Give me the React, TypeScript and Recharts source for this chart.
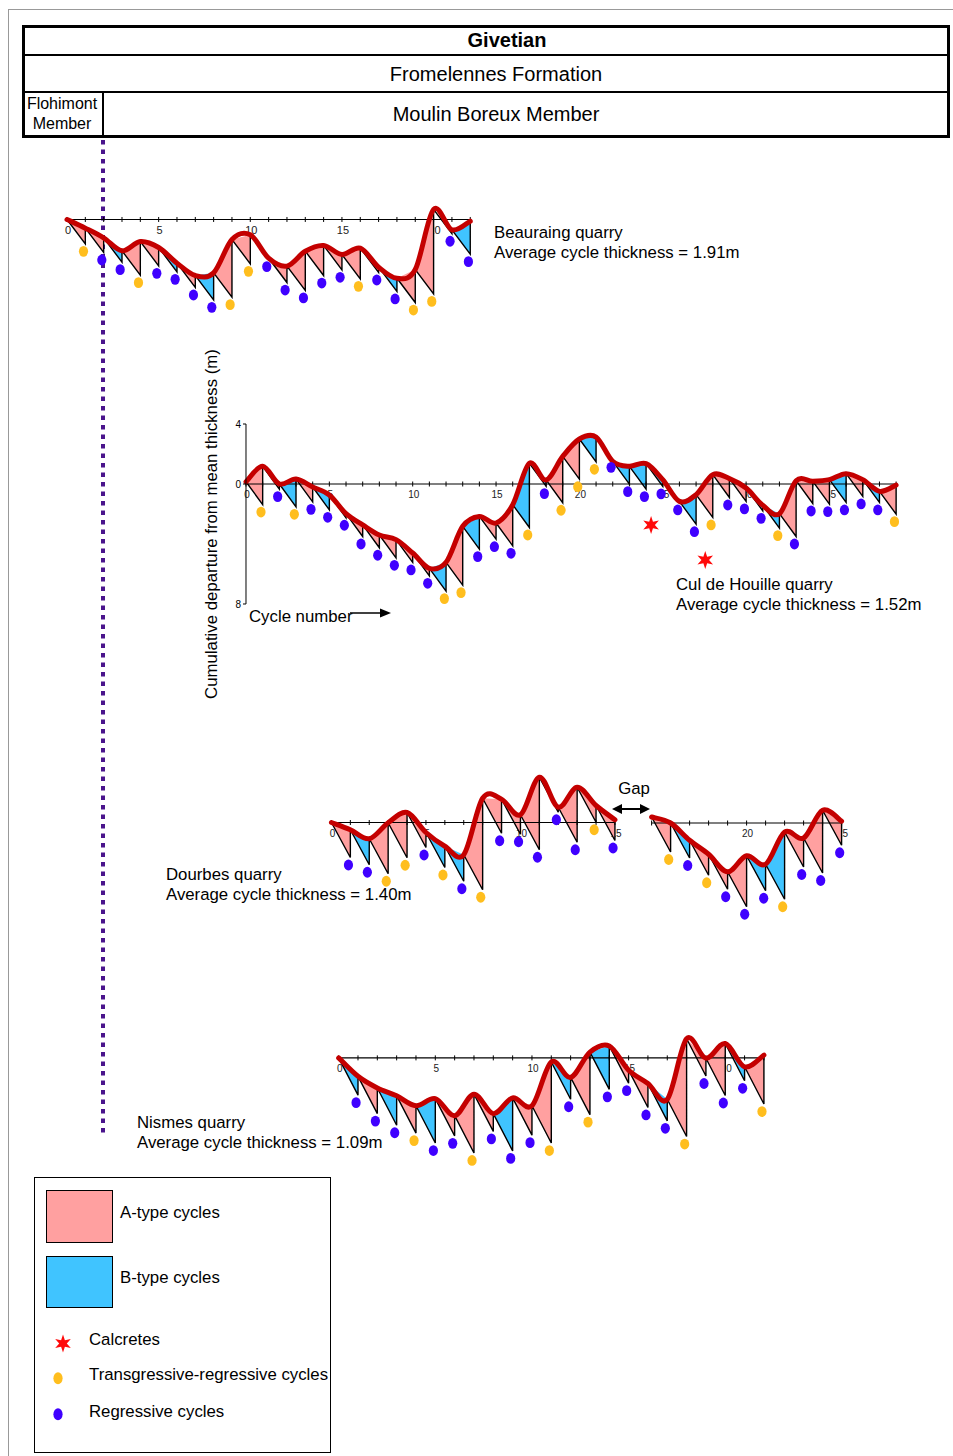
import React from 'react'
import { ComposedChart, Line, Area, Scatter, XAxis, YAxis } from 'recharts'

// Fischer plots: cumulative departure from mean thickness (m) at each cycle boundary,
// cycle type (A = pink, B = blue) and cycle kind (T = transgressive-regressive, R = regressive)

const beauraingTops = [0, -0.68, -1.44, -2.46, -1.73, -2.2, -3.43, -4.4, -4.19, -1.57, -1.2, -3.04, -3.66, -2.49, -2.04, -2.75, -2.25, -3.74, -4.61, -3.93, 0.79, -0.81, -0.13]
const beauraingTypes = ['A', 'A', 'B', 'A', 'A', 'B', 'A', 'B', 'A', 'A', 'A', 'A', 'A', 'A', 'A', 'A', 'A', 'B', 'A', 'A', 'A', 'B']
const beauraingKinds = ['T', 'R', 'R', 'T', 'R', 'R', 'R', 'R', 'T', 'T', 'R', 'R', 'R', 'R', 'R', 'T', 'R', 'R', 'T', 'T', 'R', 'R']
const beauraingLabels = [0, 5, 10, 15, 20]

const culTops = [0.15, 1.18, 0, 0.33, -0.2, -0.73, -1.98, -2.73, -3.4, -3.71, -4.6, -5.62, -5.22, -2.82, -2.16, -2.6, -1.38, 1.38, 0.27, 1.84, 3.0, 3.13, 1.51, 1.18, 1.36, 0.29, -1.16, -0.71, 0.62, 0.36, -0.27, -1.42, -1.98, 0.22, 0.18, 0.29, 0.69, 0.29, -0.49, -0.07]
const culTypes = ['A', 'A', 'B', 'A', 'B', 'A', 'A', 'A', 'A', 'A', 'A', 'B', 'A', 'B', 'A', 'A', 'B', 'B', 'A', 'A', 'B', 'B', 'B', 'B', 'B', 'B', 'B', 'A', 'A', 'A', 'B', 'B', 'A', 'A', 'A', 'B', 'A', 'B', 'A']
const culKinds = ['T', 'R', 'T', 'R', 'R', 'R', 'R', 'R', 'R', 'R', 'R', 'T', 'T', 'R', 'R', 'R', 'T', 'R', 'T', 'T', 'T', 'R', 'R', 'R', 'R', 'R', 'R', 'T', 'R', 'R', 'R', 'T', 'R', 'R', 'R', 'R', 'R', 'R', 'T']
const culLabels = [0, 5, 10, 15, 20, 25, 30, 35]
const culAxisTicks = [4, 0, -8]
const culCalcreteCycles = [24.3, 27.55]
const culCalcreteDepths = [-2.73, -5.07]

const dourbesTopsA = [0, -0.29, -0.65, -0.01, 0.4, -0.4, -0.95, -1.29, 0.97, 0.93, 0.31, 1.81, 0.61, 1.41, 0.68, 0.11]
const dourbesTypesA = ['A', 'B', 'A', 'A', 'A', 'B', 'B', 'A', 'A', 'A', 'A', 'A', 'A', 'A', 'A']
const dourbesKindsA = ['R', 'R', 'T', 'T', 'R', 'T', 'R', 'T', 'R', 'R', 'R', 'R', 'R', 'T', 'R']
const dourbesLabelsA = [0, 5, 10, 15]

// second part, after the gap, starts again at cycle 15
const dourbesTopsB = [0.24, 0, -0.69, -1.25, -1.95, -1.31, -1.65, -0.36, -0.6, 0.51, 0.07]
const dourbesTypesB = ['A', 'B', 'A', 'A', 'A', 'B', 'B', 'A', 'A', 'A']
const dourbesKindsB = ['T', 'R', 'T', 'R', 'R', 'R', 'T', 'R', 'R', 'R']
const dourbesLabelsB = [20, 25]

const nismesTops = [0, -0.54, -0.88, -1.11, -1.4, -1.19, -1.69, -1.06, -1.63, -1.17, -1.4, -0.12, -0.57, 0.17, 0.35, -0.36, -0.75, -1.21, 0.56, -0.01, 0.42, -0.26, 0.08]
const nismesTypes = ['B', 'A', 'B', 'A', 'B', 'A', 'A', 'A', 'B', 'A', 'A', 'B', 'A', 'B', 'A', 'A', 'B', 'A', 'A', 'A', 'B', 'A']
const nismesKinds = ['R', 'R', 'R', 'T', 'R', 'R', 'T', 'R', 'R', 'R', 'T', 'R', 'T', 'R', 'R', 'R', 'R', 'T', 'R', 'R', 'R', 'T']
const nismesLabels = [0, 5, 10, 15, 20]

// mean cycle thickness (m) = slope of the diagonals
const beauraingMean = 1.91
const culMean = 1.52
const dourbesMean = 1.4
const nismesMean = 1.09

const PINK = '#FFA0A0'
const BLUE = '#40C4FF'
const RED = '#C40000'
const YELLOW = '#FFBE1E'
const PURPLE = '#3F00FF'
const FONT = '"Liberation Sans", Arial, Helvetica, sans-serif'
const DOT_GAP = 7.5
const PAD = 8

// catmull-rom curve (smoothed line through the cycle tops)
const smoothCurve = (context: any) => {
  let pts: number[][] = []
  return {
    areaStart() {},
    areaEnd() {},
    lineStart() { pts = [] },
    lineEnd() {
      if (!pts.length) return
      context.moveTo(pts[0][0], pts[0][1])
      for (let i = 0; i < pts.length - 1; i++) {
        const p0 = pts[i - 1] || pts[i]
        const p1 = pts[i]
        const p2 = pts[i + 1]
        const p3 = pts[i + 2] || p2
        context.bezierCurveTo(
          p1[0] + (p2[0] - p0[0]) / 6, p1[1] + (p2[1] - p0[1]) / 6,
          p2[0] - (p3[0] - p1[0]) / 6, p2[1] - (p3[1] - p1[1]) / 6,
          p2[0], p2[1]
        )
      }
    },
    point(x: number, y: number) { pts.push([x, y]) },
  }
}

function buildRows(tops: number[], types: string[], drop: number, start: number) {
  const t0 = tops[0]
  const rows: any[] = [{ x: start, saw: t0, pink: [t0, t0], blue: [t0, t0], smooth: t0, axis: 0 }]
  for (let k = 1; k < tops.length; k++) {
    const low = tops[k - 1] - drop
    const hi = tops[k]
    rows.push({
      x: start + k,
      saw: low,
      pink: [types[k - 1] === 'A' ? low : hi, hi],
      blue: [types[k - 1] === 'B' ? low : hi, hi],
    })
    rows.push({ x: start + k, saw: hi, pink: [hi, hi], blue: [hi, hi], smooth: hi })
  }
  rows[rows.length - 1].axis = 0
  return rows
}

function starPoints(cx: number, cy: number, R: number, r: number) {
  const pts: string[] = []
  for (let k = 0; k < 12; k++) {
    const a = -Math.PI / 2 + (k * Math.PI) / 6
    const rad = k % 2 === 0 ? R : r
    pts.push(`${cx + rad * Math.cos(a)},${cy + rad * Math.sin(a)}`)
  }
  return pts.join(' ')
}

const dotShape = (color: string) => (p: any) => (
  <ellipse cx={p.cx} cy={p.cy} rx={4.6} ry={5.4} fill={color} />
)
const tickShape = (p: any) => (
  <line x1={p.cx} x2={p.cx} y1={p.cy - 2.5} y2={p.cy + 2.5} stroke="#000" strokeWidth={1} />
)
const labelShape = (size: number) => (p: any) => (
  <text x={p.cx + 1} y={p.cy + 11} textAnchor="middle" dominantBaseline="central" fontSize={size} fill="#222" fontFamily={FONT}>
    {p.payload.label}
  </text>
)
const starShape = (p: any) => <polygon points={starPoints(p.cx, p.cy, 9, 3.8)} fill="#FF0A0A" />

interface PlotProps {
  tops: number[]
  types: string[]
  kinds: string[]
  labels: number[]
  drop: number
  start?: number
  x0: number
  axisY: number
  pxC: number
  pxM: number
  xd: [number, number]
  yd: [number, number]
  yTicks?: number[]
  labelSize?: number
  starCycles?: number[]
  starDepths?: number[]
}

function FischerPlot(props: PlotProps) {
  const { tops, types, kinds, labels, drop, start = 0, x0, axisY, pxC, pxM, xd, yd, yTicks, labelSize = 10 } = props
  const rows = buildRows(tops, types, drop, start)
  const gap = DOT_GAP / pxM
  const dots = kinds.map((kind, k) => ({ x: start + k + 0.9, y: tops[k] - drop - gap, kind }))
  const tDots = dots.filter(d => d.kind === 'T')
  const rDots = dots.filter(d => d.kind === 'R')
  const tickPts = tops.map((_, k) => ({ x: start + k, y: 0 }))
  const labelPts = labels.map(l => ({ x: l, y: 0, label: String(l) }))
  const stars = (props.starCycles || []).map((c, k) => ({ x: c, y: (props.starDepths || [])[k] }))

  const showY = !!yTicks
  const yAxisW = showY ? 22 : 0
  const width = (xd[1] - xd[0]) * pxC + yAxisW
  const height = (yd[1] - yd[0]) * pxM + PAD * 2
  const left = x0 + xd[0] * pxC - yAxisW
  const top = axisY - yd[1] * pxM - PAD

  return (
    <div style={{ position: 'absolute', left, top }}>
      <ComposedChart width={width} height={height} data={rows} margin={{ top: PAD, right: 0, bottom: PAD, left: 0 }}>
        <XAxis type="number" dataKey="x" domain={xd} hide />
        <YAxis
          type="number"
          domain={yd}
          hide={!showY}
          width={yAxisW}
          ticks={yTicks}
          interval={0}
          tickFormatter={(v: number) => String(Math.abs(v))}
          tick={{ fontSize: 10, fill: '#000' }}
          tickSize={3}
          stroke="#000"
        />
        <Scatter data={labelPts} dataKey="y" shape={labelShape(labelSize)} isAnimationActive={false} zIndex={10} />
        <Area dataKey="pink" type="linear" stroke="none" fill={PINK} fillOpacity={1} isAnimationActive={false} zIndex={20} />
        <Area dataKey="blue" type="linear" stroke="none" fill={BLUE} fillOpacity={1} isAnimationActive={false} zIndex={20} />
        <Line dataKey="axis" type="linear" connectNulls stroke="#000" strokeWidth={1.2} dot={false} activeDot={false} isAnimationActive={false} zIndex={25} />
        <Scatter data={tickPts} dataKey="y" shape={tickShape} isAnimationActive={false} zIndex={26} />
        <Line dataKey="saw" type="linear" stroke="#000" strokeWidth={1.4} dot={false} activeDot={false} isAnimationActive={false} zIndex={30} />
        <Line dataKey="smooth" type={smoothCurve as any} connectNulls stroke={RED} strokeWidth={5} strokeLinecap="round" dot={false} activeDot={false} isAnimationActive={false} zIndex={40} />
        <Scatter data={tDots} dataKey="y" shape={dotShape(YELLOW)} isAnimationActive={false} zIndex={50} />
        <Scatter data={rDots} dataKey="y" shape={dotShape(PURPLE)} isAnimationActive={false} zIndex={50} />
        {stars.length > 0 && <Scatter data={stars} dataKey="y" shape={starShape} isAnimationActive={false} zIndex={60} />}
      </ComposedChart>
    </div>
  )
}

function Label({ x, y, children, size = 16.8, bold = false, center = false }: any) {
  const style: any = {
    position: 'absolute',
    top: y - 11,
    lineHeight: '22px',
    fontSize: size,
    fontWeight: bold ? 700 : 400,
    whiteSpace: 'nowrap',
    color: '#000',
  }
  if (center) {
    style.left = x - 250
    style.width = 500
    style.textAlign = 'center'
  } else {
    style.left = x
  }
  return <div style={style}>{children}</div>
}

function Bar({ x, y, w, h }: any) {
  return <div style={{ position: 'absolute', left: x, top: y, width: w, height: h, background: '#000' }} />
}

export default function App() {
  return (
    <div style={{ position: 'absolute', left: 0, top: 0, width: 953, height: 1456, background: '#fff', fontFamily: FONT, overflow: 'hidden' }}>
      {/* page frame */}
      <div style={{ position: 'absolute', left: 8, top: 9, width: 945, height: 1447, borderTop: '1.5px solid #999', borderLeft: '1.5px solid #999' }} />

      {/* stratigraphic header */}
      <div style={{ position: 'absolute', left: 22, top: 25, width: 928, height: 113, border: '3px solid #000', boxSizing: 'border-box' }} />
      <Bar x={22} y={53.5} w={928} h={2.5} />
      <Bar x={22} y={90.5} w={928} h={2.5} />
      <Bar x={101.5} y={92} w={2.5} h={45} />
      <Label x={507} y={40} size={20} bold center>Givetian</Label>
      <Label x={496} y={74} size={20} center>Fromelennes Formation</Label>
      <Label x={496} y={114} size={20} center>Moulin Boreux Member</Label>
      <Label x={62} y={104} size={16} center>Flohimont</Label>
      <Label x={62} y={124} size={16} center>Member</Label>

      {/* member boundary */}
      <svg style={{ position: 'absolute', left: 99, top: 140 }} width={8} height={1000}>
        <line x1={4} x2={4} y1={0} y2={997} stroke="#4A148C" strokeWidth={4} strokeDasharray="4.5 5" />
      </svg>

      <FischerPlot tops={beauraingTops} types={beauraingTypes} kinds={beauraingKinds} labels={beauraingLabels} drop={beauraingMean}
        x0={66.7} axisY={219} pxC={18.33} pxM={12.74} xd={[-0.6, 22.6]} yd={[-7.9, 2]} labelSize={11} />
      <Label x={494} y={233}>Beauraing quarry</Label>
      <Label x={494} y={253}>Average cycle thickness = 1.91m</Label>

      <FischerPlot tops={culTops} types={culTypes} kinds={culKinds} labels={culLabels} drop={culMean}
        x0={245.7} axisY={484} pxC={16.67} pxM={15} xd={[0, 39.6]} yd={[-8, 4]} yTicks={culAxisTicks}
        starCycles={culCalcreteCycles} starDepths={culCalcreteDepths} />
      <Label x={676} y={585}>Cul de Houille quarry</Label>
      <Label x={676} y={605}>Average cycle thickness = 1.52m</Label>
      <div style={{ position: 'absolute', left: 212, top: 524, transform: 'translate(-50%, -50%) rotate(-90deg)', whiteSpace: 'nowrap', fontSize: 16.8, lineHeight: '20px' }}>
        Cumulative departure from mean thickness (m)
      </div>
      <Label x={249} y={617}>Cycle number</Label>
      <svg style={{ position: 'absolute', left: 345, top: 605 }} width={50} height={16}>
        <line x1={5} x2={37} y1={8} y2={8} stroke="#000" strokeWidth={1.5} />
        <polygon points="35,3.5 46,8 35,12.5" fill="#000" />
      </svg>

      <FischerPlot tops={dourbesTopsA} types={dourbesTypesA} kinds={dourbesKindsA} labels={dourbesLabelsA} drop={dourbesMean}
        x0={331} axisY={822.7} pxC={18.9} pxM={25} xd={[-0.5, 15.4]} yd={[-3.6, 2.5]} />
      <FischerPlot tops={dourbesTopsB} types={dourbesTypesB} kinds={dourbesKindsB} labels={dourbesLabelsB} drop={dourbesMean} start={15}
        x0={366.7} axisY={823.3} pxC={19} pxM={25} xd={[14.6, 25.5]} yd={[-4.2, 1.6]} />
      <Label x={634} y={789} center>Gap</Label>
      <svg style={{ position: 'absolute', left: 608, top: 801 }} width={46} height={16}>
        <line x1={10} x2={36} y1={8} y2={8} stroke="#000" strokeWidth={2} />
        <polygon points="4,8 14,3 14,13" fill="#000" />
        <polygon points="42,8 32,3 32,13" fill="#000" />
      </svg>
      <Label x={166} y={875}>Dourbes quarry</Label>
      <Label x={166} y={895}>Average cycle thickness = 1.40m</Label>

      <FischerPlot tops={nismesTops} types={nismesTypes} kinds={nismesKinds} labels={nismesLabels} drop={nismesMean}
        x0={338.5} axisY={1057.7} pxC={19.33} pxM={34.2} xd={[-0.5, 22.5]} yd={[-3.5, 1.4]} />
      <Label x={137} y={1123}>Nismes quarry</Label>
      <Label x={137} y={1143}>Average cycle thickness = 1.09m</Label>

      {/* legend */}
      <div style={{ position: 'absolute', left: 34, top: 1177, width: 297, height: 276, border: '1.5px solid #000', boxSizing: 'border-box' }} />
      <div style={{ position: 'absolute', left: 46, top: 1190, width: 67, height: 53, background: PINK, border: '1.5px solid #000', boxSizing: 'border-box' }} />
      <div style={{ position: 'absolute', left: 46, top: 1256, width: 67, height: 52, background: BLUE, border: '1.5px solid #000', boxSizing: 'border-box' }} />
      <Label x={120} y={1213}>A-type cycles</Label>
      <Label x={120} y={1278}>B-type cycles</Label>
      <svg style={{ position: 'absolute', left: 40, top: 1320 }} width={40} height={110}>
        <polygon points={starPoints(23, 23.5, 9, 3.8)} fill="#FF0A0A" />
        <ellipse cx={18} cy={58.3} rx={4.6} ry={6} fill={YELLOW} />
        <ellipse cx={18} cy={94.3} rx={4.6} ry={6} fill={PURPLE} />
      </svg>
      <Label x={89} y={1340}>Calcretes</Label>
      <Label x={89} y={1375}>Transgressive-regressive cycles</Label>
      <Label x={89} y={1412}>Regressive cycles</Label>
    </div>
  )
}
